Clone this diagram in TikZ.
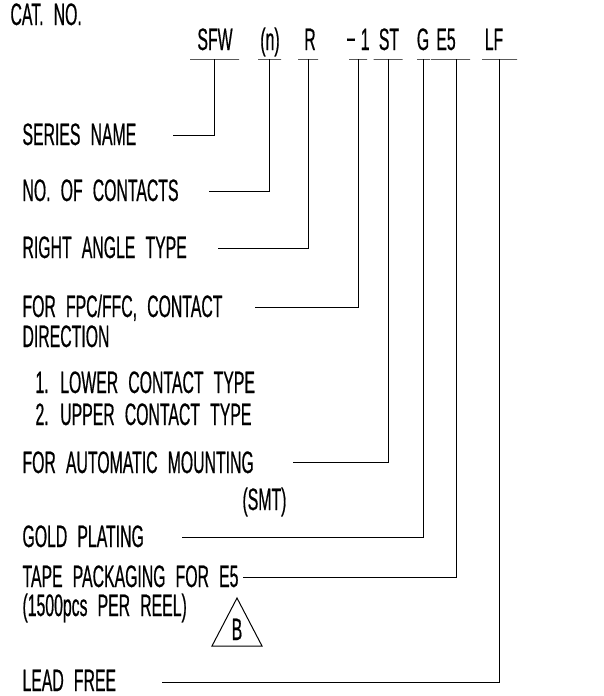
\documentclass[tikz,border=0pt]{standalone}
\usepackage{fontspec}
\setmainfont{Liberation Sans}[FakeStretch=0.51,WordSpace=2.3,FakeBold=0.5]
\usepackage{tikz}
\newcommand{\partfont}{\fontsize{31}{34}\selectfont}

\begin{document}
\begin{tikzpicture}[x=1pt,y=-1pt,line width=1pt,
		bar/.style={draw,rectangle,minimum width=#1,minimum height=0pt,inner sep=0pt}]
		\useasboundingbox (0,0) rectangle (603,696);

		% part number
		\begin{scope}[every node/.style={anchor=base,inner sep=0pt,font=\partfont}]
			\node[anchor=base west] (cat) at (10,25) {CAT. NO.};
			\node (sfw) at (215,50) {SFW};
			\node (num) at (270,50) {(n)};
			\node (ra) at (310,50) {R};
			\node (dir) at (358,50) {−\,1};
			\node (st) at (389,50) {ST};
			\node (g) at (423,50) {G};
			\node (e5) at (446,50) {E5};
			\node (lf) at (494,50) {LF};
		\end{scope}

		\node[bar=49] (sfw-bar) at (214.5,59) {};
		\node[bar=23] (num-bar) at (269.5,59) {};
		\node[bar=20] (ra-bar) at (308,59) {};
		\node[bar=18] (dir-bar) at (358,59) {};
		\node[bar=29] (st-bar) at (388,59) {};
		\node[bar=13] (g-bar) at (423.5,59) {};
		\node[bar=39] (e5-bar) at (450.5,59) {};
		\node[bar=35] (lf-bar) at (499.5,59) {};

		% descriptions
		\begin{scope}[every node/.style={anchor=base west,inner sep=0pt,font=\partfont}]
			\node (series) at (22,145) {SERIES NAME};
			\node (contacts) at (22,201) {NO. OF CONTACTS};
			\node (angle) at (22,258) {RIGHT ANGLE TYPE};
			\node (fpc) at (22,317) {FOR FPC/FFC, CONTACT};
			\node (fpc2) at (22,347) {DIRECTION};
			\node (lower) at (35,393) {1. LOWER CONTACT TYPE};
			\node (upper) at (35,425) {2. UPPER CONTACT TYPE};
			\node (smt) at (22,473) {FOR AUTOMATIC MOUNTING};
			\node (smt2) at (242,510) {(SMT)};
			\node (gold) at (22,547) {GOLD PLATING};
			\node (tape) at (22,587) {TAPE PACKAGING FOR E5};
			\node (tape2) at (22,616) {(1500pcs PER REEL)};
			\node (lead) at (22,691) {LEAD FREE};
			\node[anchor=base] (rev) at (237,640) {B};
		\end{scope}

		\draw (237,598) -- (212,646) -- (262,646) -- cycle;

		\coordinate (series-end) at (173,135);
		\coordinate (contacts-end) at (209,191);
		\coordinate (angle-end) at (218,248);
		\coordinate (fpc-end) at (255,307);
		\coordinate (smt-end) at (293,462);
		\coordinate (gold-end) at (182,537);
		\coordinate (tape-end) at (243,577);
		\coordinate (lead-end) at (162,682);

		\begin{scope}[every path/.style={draw=black}]
			\path (sfw-bar.center) |- (series-end);
			\path (num-bar.center) |- (contacts-end);
			\path (ra-bar.center) |- (angle-end);
			\path (dir-bar.center) |- (fpc-end);
			\path (st-bar.center) |- (smt-end);
			\path (g-bar.center) |- (gold-end);
			\path ([xshift=5.5pt]e5-bar.center) |- (tape-end);
			\path (lf-bar.center) |- (lead-end);
		\end{scope}
		\end{tikzpicture}
\end{document}
